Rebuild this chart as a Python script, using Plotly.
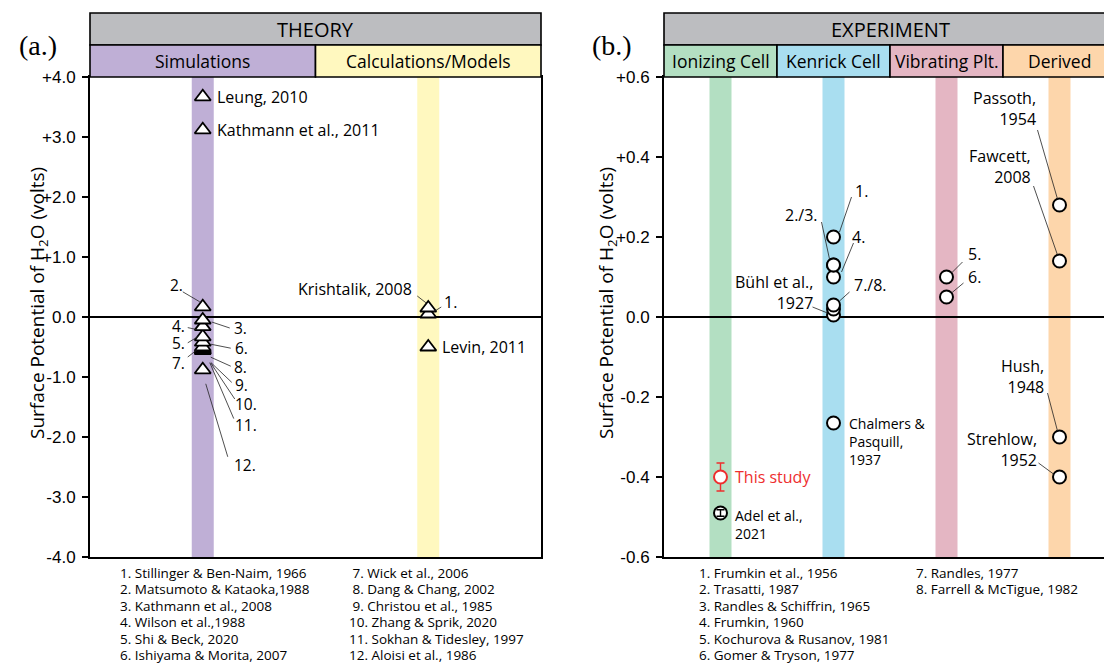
import plotly.graph_objects as go

# ---------------- data ----------------
theory_groups = ["Simulations", "Calculations/Models"]
theory_colors = ["#BFAFD6", "#FFF8BF"]

# Simulations column (numbered references)
sim_refs = ["2.", "3.", "4.", "5.", "6.", "7.", "8.", "9.", "10.", "11.", "12."]
sim_values = [0.17, -0.05, -0.16, -0.33, -0.42, -0.50, -0.52, -0.54, -0.55, -0.56, -0.88]
# Simulations column (named references)
sim_named = ["Leung, 2010", "Kathmann et al., 2011"]
sim_named_values = [3.67, 3.12]

# Calculations / Models column
calc_refs = ["Krishtalik, 2008", "1.", "Levin, 2011"]
calc_values = [0.15, 0.05, -0.50]

theory_ticks = [4, 3, 2, 1, 0, -1, -2, -3, -4]
theory_ticktext = ["+4.0", "+3.0", "+2.0", "+1.0", "0.0", "-1.0", "-2.0", "-3.0", "-4.0"]

exp_groups = ["Ionizing Cell", "Kenrick Cell", "Vibrating Plt.", "Derived"]
exp_colors = ["#B3DFC2", "#A9DEF0", "#E4B6C3", "#FDD6AB"]

ion_refs = ["This study", "Adel et al.,<br>2021"]
ion_values = [-0.40, -0.49]
ion_errors = [0.035, 0.008]

kenrick_refs = ["1.", "2.", "3.", "4.", "7.", "8.", "Bühl et al.,<br>1927", "Chalmers &<br>Pasquill,<br>1937"]
kenrick_values = [0.20, 0.13, 0.13, 0.10, 0.03, 0.02, 0.005, -0.265]

vib_refs = ["5.", "6."]
vib_values = [0.10, 0.05]

derived_refs = ["Passoth,<br>1954", "Fawcett,<br>2008", "Hush,<br>1948", "Strehlow,<br>1952"]
derived_values = [0.28, 0.14, -0.30, -0.40]

exp_ticks = [0.6, 0.4, 0.2, 0.0, -0.2, -0.4, -0.6]
exp_ticktext = ["+0.6", "+0.4", "+0.2", "0.0", "-0.2", "-0.4", "-0.6"]

theory_notes_1 = ["1. Stillinger & Ben-Naim, 1966", "2. Matsumoto & Kataoka,1988",
                  "3. Kathmann et al., 2008", "4. Wilson et al.,1988",
                  "5. Shi & Beck, 2020", "6. Ishiyama & Morita, 2007"]
theory_notes_2 = ["\u00a07. Wick et al., 2006", "\u00a08. Dang & Chang, 2002",
                  "\u00a09. Christou et al., 1985", "10. Zhang & Sprik, 2020",
                  "11. Sokhan & Tidesley, 1997", "12. Aloisi et al., 1986"]
exp_notes_1 = ["1. Frumkin et al., 1956", "2. Trasatti, 1987", "3. Randles & Schiffrin, 1965",
               "4. Frumkin, 1960", "5. Kochurova & Rusanov, 1981", "6. Gomer & Tryson, 1977"]
exp_notes_2 = ["7. Randles, 1977", "8. Farrell & McTigue, 1982"]

# ---------------- layout helpers ----------------
W, H = 1104, 665
SANS = "Open Sans"
ARIAL = "Liberation Sans"
SERIF = "Liberation Serif"


def px(x):
    return x / W


def py(y):
    return 1 - y / H


L_LEFT, L_RIGHT = 90, 541
R_LEFT, R_CELL = 664, 113
TOP, BOTTOM = 77, 557
HDR_TOP, HDR_MID = 13, 45
L_CELL = (L_RIGHT - L_LEFT) / 2

fig = go.Figure()

shapes = []
annotations = []


def text_at(x, y, text, size, family=SANS, xanchor="center", yanchor="middle", **kw):
    annotations.append(dict(xref="paper", yref="paper", x=px(x), y=py(y), text=text,
                            showarrow=False, xanchor=xanchor, yanchor=yanchor,
                            font=dict(family=family, size=size, color="black"), **kw))


# column bands
for i, c in enumerate(theory_colors):
    hw = 11 / L_CELL
    shapes.append(dict(type="rect", xref="x", yref="y", x0=i + 0.5 - hw, x1=i + 0.5 + hw,
                       y0=-4, y1=4, fillcolor=c, line=dict(width=0), layer="below"))
for i, c in enumerate(exp_colors):
    hw = 11 / R_CELL
    shapes.append(dict(type="rect", xref="x2", yref="y2", x0=i + 0.5 - hw, x1=i + 0.5 + hw,
                       y0=-0.6, y1=0.6, fillcolor=c, line=dict(width=0), layer="below"))

# header boxes
BOX_LINE = dict(color="black", width=1.6)
shapes.append(dict(type="rect", xref="paper", yref="paper", x0=px(L_LEFT), x1=px(L_RIGHT),
                   y0=py(HDR_MID), y1=py(HDR_TOP), fillcolor="#BCBDC0", line=BOX_LINE))
text_at((L_LEFT + L_RIGHT) / 2, 29, "THEORY", 20)
for i, (g, c) in enumerate(zip(theory_groups, theory_colors)):
    x0 = L_LEFT + i * L_CELL
    shapes.append(dict(type="rect", xref="paper", yref="paper", x0=px(x0), x1=px(x0 + L_CELL),
                       y0=py(TOP), y1=py(HDR_MID), fillcolor=c, line=BOX_LINE))
    text_at(x0 + L_CELL / 2, 61, g, 17.5)

shapes.append(dict(type="rect", xref="paper", yref="paper", x0=px(R_LEFT), x1=px(R_LEFT + 4 * R_CELL),
                   y0=py(HDR_MID), y1=py(HDR_TOP), fillcolor="#BCBDC0", line=BOX_LINE))
text_at(R_LEFT + 2 * R_CELL, 29, "EXPERIMENT", 20)
for i, (g, c) in enumerate(zip(exp_groups, exp_colors)):
    x0 = R_LEFT + i * R_CELL
    shapes.append(dict(type="rect", xref="paper", yref="paper", x0=px(x0), x1=px(x0 + R_CELL),
                       y0=py(TOP), y1=py(HDR_MID), fillcolor=c, line=BOX_LINE))
    text_at(x0 + R_CELL / 2, 61, g, 17.5)

# ---------------- markers ----------------
TRI = dict(symbol="triangle-up", size=14, color="white", line=dict(color="black", width=1.8))
CIRC = dict(symbol="circle", size=13, color="white", line=dict(color="black", width=2))

fig.add_trace(go.Scatter(x=[0.5] * len(sim_named_values), y=sim_named_values, mode="markers",
                         marker=TRI, xaxis="x", yaxis="y", hoverinfo="skip"))
fig.add_trace(go.Scatter(x=[0.5] * len(sim_values), y=sim_values[::-1], mode="markers",
                         marker=TRI, xaxis="x", yaxis="y", hoverinfo="skip"))
fig.add_trace(go.Scatter(x=[1.5] * len(calc_values), y=calc_values[::-1], mode="markers",
                         marker=TRI, xaxis="x", yaxis="y", hoverinfo="skip"))

# ionizing cell: this study (red) and Adel et al.
fig.add_trace(go.Scatter(x=[0.5], y=[ion_values[0]], mode="markers",
                         marker=dict(symbol="circle", size=13, color="white",
                                     line=dict(color="#EE2E2E", width=2)),
                         error_y=dict(type="data", array=[ion_errors[0]], color="#EE2E2E",
                                      thickness=1.4, width=4),
                         xaxis="x2", yaxis="y2", hoverinfo="skip"))
fig.add_trace(go.Scatter(x=[0.5], y=[ion_values[1]], mode="markers", marker=CIRC,
                         xaxis="x2", yaxis="y2", hoverinfo="skip"))
fig.add_trace(go.Scatter(x=[0.5], y=[ion_values[1]], mode="markers",
                         marker=dict(size=1, opacity=0),
                         error_y=dict(type="data", array=[ion_errors[1]], color="black",
                                      thickness=1.4, width=4),
                         xaxis="x2", yaxis="y2", hoverinfo="skip"))
fig.add_trace(go.Scatter(x=[1.5] * len(kenrick_values), y=kenrick_values[::-1], mode="markers",
                         marker=CIRC, xaxis="x2", yaxis="y2", hoverinfo="skip"))
fig.add_trace(go.Scatter(x=[2.5] * len(vib_values), y=vib_values, mode="markers",
                         marker=CIRC, xaxis="x2", yaxis="y2", hoverinfo="skip"))
fig.add_trace(go.Scatter(x=[3.5] * len(derived_values), y=derived_values, mode="markers",
                         marker=CIRC, xaxis="x2", yaxis="y2", hoverinfo="skip"))


# ---------------- labels & leader lines ----------------
def note(xr, yr, x, y, text, dx, dy, anchor="left", size=16, color="black", align=None):
    """Label placed dx, dy pixels (dy downwards) from a data point."""
    annotations.append(dict(xref=xr, yref=yr, x=x, y=y, text=text, showarrow=False,
                            xshift=dx, yshift=-dy, xanchor=anchor, yanchor="middle",
                            align=align or anchor,
                            font=dict(family=SANS, size=size, color=color)))


def leader(xr, yr, x, y, tail, head):
    """Thin line from a label (tail) towards a data point (head), pixel offsets, y downwards."""
    shapes.append(dict(type="line", xref=xr, yref=yr, xsizemode="pixel", ysizemode="pixel",
                       xanchor=x, yanchor=y, x0=tail[0], y0=-tail[1], x1=head[0], y1=-head[1],
                       line=dict(color="#222222", width=0.8)))


# simulations: named labels
for name, v in zip(sim_named, sim_named_values):
    note("x", "y", 0.5, v, name, 12, 0)

# simulations: numbered labels -> (dx, dy, anchor, tail, head)
sim_style = {
    "2.": (-18, -22, "right", (-20, -15), (-3, -5)),
    "3.": (29, 8, "left", (27, 8), (9, 2)),
    "4.": (-16, -1, "right", (-15, 1), (-6, 3)),
    "5.": (-16, 6, "right", (-15, 6), (-5, 0)),
    "6.": (30, 6, "left", (28, 6), (8, 2)),
    "7.": (-16, 16, "right", (-15, 10), (-6, 3)),
    "8.": (29, 19, "left", (28, 18), (8, 9)),
    "9.": (30, 36, "left", (29, 33), (8, 13)),
    "10.": (30, 54, "left", (32, 49), (8, 13)),
    "11.": (30, 74, "left", (31, 68), (7, 12)),
    "12.": (29, 95, "left", (25, 87), (3, 14)),
}
for ref, v in zip(sim_refs, sim_values):
    dx, dy, anc, tail, head = sim_style[ref]
    note("x", "y", 0.5, v, ref, dx, dy, anc, size=15.5)
    leader("x", "y", 0.5, v, tail, head)

calc_style = {
    "Krishtalik, 2008": (-14, -19, "right", (-11, -12), (-2, -5)),
    "1.": (14, -12, "left", (13, -7), (5, -2)),
    "Levin, 2011": (12, 0, "left", None, None),
}
for ref, v in zip(calc_refs, calc_values):
    dx, dy, anc, tail, head = calc_style[ref]
    note("x", "y", 1.5, v, ref, dx, dy, anc)
    if tail is not None:
        leader("x", "y", 1.5, v, tail, head)

# ionizing cell labels
note("x2", "y2", 0.5, ion_values[0], ion_refs[0], 12, 0, size=16, color="#EE2E2E")
note("x2", "y2", 0.5, ion_values[1], ion_refs[1], 12, 11, size=14)

# Kenrick cell labels
ken_style = {
    "1.": (19, -46, "left", (18, -40), (6, -5), 16),
    "2.": (-14, -50, "right", (-12, -43), (-4, -6), 16),
    "4.": (16, -40, "left", (20, -34), (8, -5), 16),
    "7.": (18, -20, "left", (16, -13), (6, -4), 16),
    "Bühl et al.,<br>1927": (-19, -23, "right", (-21, -8), (-6, -2), 16),
    "Chalmers &<br>Pasquill,<br>1937": (13, 18, "left", None, None, 14),
}
ken_text = {"2.": "2./3.", "7.": "7./8."}
for ref, v in zip(kenrick_refs, kenrick_values):
    if ref not in ken_style:
        continue
    dx, dy, anc, tail, head, sz = ken_style[ref]
    note("x2", "y2", 1.5, v, ken_text.get(ref, ref), dx, dy, anc, size=sz)
    if tail is not None:
        leader("x2", "y2", 1.5, v, tail, head)

# vibrating plate labels
vib_style = {"5.": (19, -23, (16, -15), (5, -4)), "6.": (19, -20, (17, -14), (5, -4))}
for ref, v in zip(vib_refs, vib_values):
    dx, dy, tail, head = vib_style[ref]
    note("x2", "y2", 2.5, v, ref, dx, dy, "left", size=16)
    leader("x2", "y2", 2.5, v, tail, head)

# derived labels
der_style = {
    "Passoth,<br>1954": (-22, -97, (-22, -75), (-2, -6)),
    "Fawcett,<br>2008": (-27, -95, (-26, -75), (-2, -6)),
    "Hush,<br>1948": (-14, -61, (-12, -44), (-2, -6)),
    "Strehlow,<br>1952": (-21, -28, (-21, -14), (-6, -3)),
}
for ref, v in zip(derived_refs, derived_values):
    dx, dy, tail, head = der_style[ref]
    note("x2", "y2", 3.5, v, ref, dx, dy, "right", size=16)
    leader("x2", "y2", 3.5, v, tail, head)

# panel tags
text_at(38, 45, "(a.)", 28, family=SERIF)
text_at(612, 45, "(b.)", 28, family=SERIF)

# axis titles
for xp in (38, 607):
    text_at(xp, 303, "Surface Potential of H<sub>2</sub>O (volts)", 19, textangle=-90)

# reference lists, one line each
for xp, lines in ((118, theory_notes_1), (347, theory_notes_2),
                  (697, exp_notes_1), (914, exp_notes_2)):
    for k, line in enumerate(lines):
        text_at(xp, 573 + 16.4 * k, line, 13.5, xanchor="left")

AX_LINE = dict(showline=True, linecolor="black", linewidth=2, showgrid=False, automargin=False)
TICKS = dict(ticks="outside", ticklen=6, tickwidth=1.5, tickcolor="black", ticklabelstandoff=3,
             tickfont=dict(family=ARIAL, size=17, color="black"))
fig.update_layout(
    width=W, height=H, margin=dict(l=0, r=0, t=0, b=0, autoexpand=False),
    paper_bgcolor="white", plot_bgcolor="white", showlegend=False,
    xaxis=dict(domain=[px(L_LEFT), px(L_RIGHT)], range=[0, 2], mirror=True, zeroline=False,
               showticklabels=False, ticks="", **AX_LINE),
    yaxis=dict(domain=[py(BOTTOM), py(TOP)], range=[-4, 4], tickvals=theory_ticks,
               ticktext=theory_ticktext, mirror=True, zeroline=True, zerolinecolor="black",
               zerolinewidth=2, **TICKS, **AX_LINE),
    xaxis2=dict(domain=[px(R_LEFT), 1.0], range=[0, (W - R_LEFT) / R_CELL], anchor="y2",
                mirror=True, zeroline=False, showticklabels=False, ticks="", **AX_LINE),
    yaxis2=dict(domain=[py(BOTTOM), py(TOP)], range=[-0.6, 0.6], anchor="x2", tickvals=exp_ticks,
                ticktext=exp_ticktext, mirror=False, zeroline=True, zerolinecolor="black",
                zerolinewidth=2, **TICKS, **AX_LINE),
    shapes=shapes,
    annotations=annotations,
)

fig.write_html("out.html")
